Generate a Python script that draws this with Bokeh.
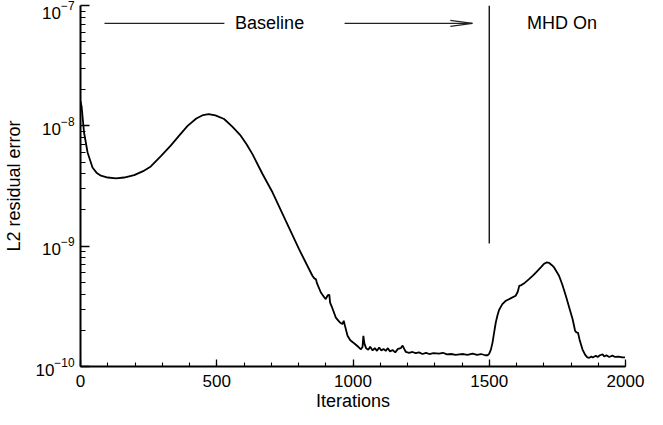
from bokeh.plotting import figure
from bokeh.models import Range1d, FixedTicker, SingleIntervalTicker, LogTickFormatter
from bokeh.core.properties import value
from bokeh.embed import file_html
from bokeh.resources import INLINE

# ---- data ----
iterations = [0, 4, 13, 26, 44, 60, 75, 100, 130, 160, 197, 230, 258, 295, 331, 362, 393, 425, 450, 470,
              495, 527, 558, 588, 610, 631, 668, 705, 753, 802, 851, 858, 864, 868, 882, 895, 900, 907,
              913, 916, 922, 937, 950, 955, 961, 966, 970, 980, 990, 1004, 1016, 1029, 1035, 1038, 1042,
              1048, 1056, 1063, 1072, 1080, 1088, 1096, 1104, 1112, 1120, 1128, 1136, 1145, 1155, 1165,
              1175, 1182, 1188, 1194, 1206, 1218, 1230, 1242, 1255, 1268, 1280, 1295, 1316, 1330, 1345,
              1360, 1377, 1390, 1405, 1420, 1439, 1455, 1470, 1485, 1494, 1500, 1506, 1512, 1518, 1524,
              1530, 1536, 1548, 1561, 1580, 1597, 1605, 1610, 1618, 1630, 1646, 1660, 1671, 1690, 1700,
              1710, 1720, 1730, 1738, 1756, 1768, 1781, 1795, 1806, 1815, 1820, 1826, 1832, 1842, 1852,
              1860, 1867, 1875, 1880, 1891, 1898, 1906, 1916, 1922, 1930, 1940, 1952, 1962, 1975, 1988,
              1998]
residual = [1.60e-8, 1.45e-8, 8.8e-9, 6.0e-9, 4.5e-9, 4.05e-9, 3.85e-9, 3.72e-9, 3.66e-9, 3.72e-9,
            3.89e-9, 4.2e-9, 4.6e-9, 5.6e-9, 6.84e-9, 8.3e-9, 1.0e-8, 1.15e-8, 1.23e-8, 1.25e-8,
            1.22e-8, 1.14e-8, 9.8e-9, 8.28e-9, 7.0e-9, 5.82e-9, 3.98e-9, 2.79e-9, 1.63e-9, 9.44e-10,
            5.68e-10, 5.4e-10, 5.3e-10, 4.9e-10, 4.12e-10, 3.75e-10, 3.63e-10, 3.9e-10, 3.95e-10,
            3.4e-10, 3.15e-10, 2.55e-10, 2.35e-10, 2.3e-10, 2.25e-10, 2.4e-10, 2.2e-10, 1.80e-10,
            1.65e-10, 1.56e-10, 1.48e-10, 1.39e-10, 1.45e-10, 1.80e-10, 1.55e-10, 1.42e-10, 1.38e-10,
            1.46e-10, 1.36e-10, 1.42e-10, 1.35e-10, 1.44e-10, 1.36e-10, 1.40e-10, 1.35e-10, 1.42e-10,
            1.33e-10, 1.37e-10, 1.31e-10, 1.40e-10, 1.42e-10, 1.49e-10, 1.40e-10, 1.32e-10, 1.30e-10,
            1.32e-10, 1.29e-10, 1.31e-10, 1.27e-10, 1.30e-10, 1.27e-10, 1.29e-10, 1.28e-10, 1.30e-10,
            1.26e-10, 1.27e-10, 1.25e-10, 1.26e-10, 1.27e-10, 1.25e-10, 1.28e-10, 1.25e-10, 1.27e-10,
            1.24e-10, 1.24e-10, 1.28e-10, 1.38e-10, 1.58e-10, 1.92e-10, 2.32e-10, 2.65e-10, 2.95e-10,
            3.30e-10, 3.52e-10, 3.70e-10, 3.87e-10, 4.2e-10, 4.68e-10, 4.75e-10, 4.95e-10, 5.32e-10,
            5.7e-10, 6.04e-10, 6.7e-10, 7.1e-10, 7.33e-10, 7.25e-10, 6.95e-10, 6.65e-10, 5.68e-10,
            4.8e-10, 3.87e-10, 3.0e-10, 2.47e-10, 1.98e-10, 1.92e-10, 1.90e-10, 1.65e-10, 1.39e-10,
            1.25e-10, 1.19e-10, 1.18e-10, 1.21e-10, 1.19e-10, 1.23e-10, 1.20e-10, 1.24e-10, 1.26e-10,
            1.21e-10, 1.24e-10, 1.20e-10, 1.23e-10, 1.20e-10, 1.21e-10, 1.19e-10, 1.19e-10]

y_decades = [1e-10, 1e-9, 1e-8, 1e-7]

# annotation values
mhd_start = 1500
mhd_line_bottom = 1.05e-9
note_level = 7.1e-8
left_line = [88, 528]
right_arrow = [969, 1438]
baseline_label_x = 694
mhd_label_x = 1767
x_title = "Iterations"
y_title = "L2 residual error"

FONT = "Liberation Sans"
B_LEFT, B_RIGHT, B_TOP, B_BOTTOM = 80, 22, 5, 48
FRAME_W, FRAME_H = 545, 361
W, H = B_LEFT + FRAME_W + B_RIGHT, B_TOP + FRAME_H + B_BOTTOM

p = figure(width=W, height=H, output_backend="svg", toolbar_location=None,
           y_axis_type="log",
           x_range=Range1d(0, 2000), y_range=Range1d(1e-10, 1e-7),
           min_border_left=B_LEFT, min_border_right=B_RIGHT,
           min_border_top=B_TOP, min_border_bottom=B_BOTTOM)
p.outline_line_color = None
p.xgrid.visible = False
p.ygrid.visible = False
p.background_fill_color = "white"
p.border_fill_color = "white"

# axes styling
for ax in (p.xaxis[0], p.yaxis[0]):
    ax.axis_line_width = 2
    ax.axis_line_color = "black"
    ax.major_tick_line_color = "black"
    ax.minor_tick_line_color = "black"
    ax.major_tick_line_width = 1.3
    ax.minor_tick_line_width = 1.1
    ax.major_tick_out = 0
    ax.minor_tick_out = 0
    ax.major_label_text_font = FONT
    ax.major_label_text_font_size = "17px"
    ax.major_label_text_color = "black"
    ax.axis_label_text_font = FONT
    ax.axis_label_text_font_size = "18px"
    ax.axis_label_text_font_style = "normal"
    ax.axis_label_text_color = "black"

p.xaxis.ticker = SingleIntervalTicker(interval=500, num_minor_ticks=5)
p.xaxis.major_tick_in = 7
p.xaxis.minor_tick_in = 4
p.xaxis.major_label_standoff = 8
p.xaxis.axis_label = x_title
p.xaxis.axis_label_standoff = 1

minor_y = [m * d for d in y_decades[:-1] for m in range(2, 10)]
p.yaxis.ticker = FixedTicker(ticks=y_decades, minor_ticks=minor_y)
p.yaxis.formatter = LogTickFormatter()
p.yaxis.major_tick_in = 9
p.yaxis.minor_tick_in = 5
p.yaxis.major_label_standoff = 6
p.yaxis.axis_label = y_title
p.yaxis.axis_label_standoff = 8

px_per_iter = FRAME_W / 2000.0
px_per_decade = FRAME_H / 3.0

# residual curve
p.line(iterations, residual, line_color="black", line_width=1.8)

# annotations: MHD switch-on line, arrow and labels
p.segment(x0=[mhd_start], y0=[mhd_line_bottom], x1=[mhd_start], y1=[1e-7],
          line_color="black", line_width=1.3)
p.segment(x0=[left_line[0], right_arrow[0]], y0=[note_level, note_level],
          x1=[left_line[1], right_arrow[1]], y1=[note_level, note_level],
          line_color="#222222", line_width=1.2)

head_len = 22 / px_per_iter
head_fac = 10 ** (3.0 / px_per_decade)
tip = right_arrow[1]
p.segment(x0=[tip - head_len, tip - head_len], y0=[note_level * head_fac, note_level / head_fac],
          x1=[tip, tip], y1=[note_level, note_level], line_color="#222222", line_width=1.2)

p.text(x=[baseline_label_x, mhd_label_x], y=[note_level, note_level], text=["Baseline", "MHD On"],
       text_font=value(FONT), text_font_size="18px", text_color="black",
       text_align="center", text_baseline="middle")

open("out.html", "w").write(file_html(p, INLINE))
